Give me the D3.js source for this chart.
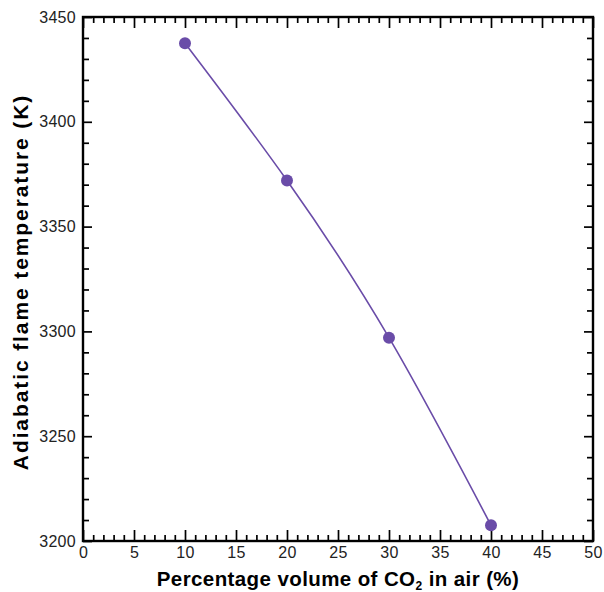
<!DOCTYPE html>
<html>
<head>
<meta charset="utf-8">
<script src="https://cdn.jsdelivr.net/npm/d3@7"></script>
<style>
  body { margin: 0; background: #fff; }
  text { font-family: "Liberation Sans", Arial, sans-serif; }
</style>
</head>
<body>
<div id="chart-area"></div>
<script>
// data
let co2Pct = [10, 20, 30, 40];
let flameTemp = [3437.5, 3372, 3297, 3207.5];
let xTicks = [0, 5, 10, 15, 20, 25, 30, 35, 40, 45, 50];
let yTicks = [3200, 3250, 3300, 3350, 3400, 3450];

let margin = {top: 17, right: 11, bottom: 51, left: 83},
    width = 604 - margin.left - margin.right,
    height = 592 - margin.top - margin.bottom;

let svg = d3.select("#chart-area").append("svg")
    .attr("width", 604)
    .attr("height", 592)
    .append("g")
    .attr("transform", "translate(" + margin.left + "," + margin.top + ")");

let x = d3.scaleLinear().domain([0, 50]).range([0, width]);
let y = d3.scaleLinear().domain([3200, 3450]).range([height, 0]);

let xMinor = d3.range(0, 51, 1).filter(d => d % 5 != 0);
let yMinor = d3.range(3200, 3451, 10).filter(d => d % 50 != 0);

function tickAxis(axisFn, scale, ticks, size, labels) {
    return axisFn(scale).tickValues(ticks).tickSize(size).tickPadding(6)
        .tickFormat(labels ? d3.format("d") : "");
}

// inward ticks on all four sides
let bottomG = svg.append("g").attr("class", "x-axis axis")
    .attr("transform", "translate(0," + height + ")")
    .call(tickAxis(d3.axisBottom, x, xTicks, -11, true));
bottomG.selectAll(".tick text").attr("dy", "0.9em").attr("y", 3);
svg.append("g").attr("transform", "translate(0," + height + ")")
    .call(tickAxis(d3.axisBottom, x, xMinor, -6, false));

svg.append("g").call(tickAxis(d3.axisTop, x, xTicks, -11, false));
svg.append("g").call(tickAxis(d3.axisTop, x, xMinor, -6, false));

let leftG = svg.append("g").attr("class", "y-axis axis")
    .call(tickAxis(d3.axisLeft, y, yTicks, -9, true));
leftG.selectAll(".tick text").attr("x", -7);
svg.append("g").call(tickAxis(d3.axisLeft, y, yMinor, -6, false));

svg.append("g").attr("transform", "translate(" + width + ",0)")
    .call(tickAxis(d3.axisRight, y, yTicks, -9, false));
svg.append("g").attr("transform", "translate(" + width + ",0)")
    .call(tickAxis(d3.axisRight, y, yMinor, -6, false));

svg.selectAll(".domain").remove();
svg.selectAll(".tick line").attr("stroke", "#000").attr("stroke-width", 1.7);
svg.selectAll(".tick text")
    .attr("fill", "#222")
    .style("font-size", "16px")
    .style("letter-spacing", "0.3px");

// frame
svg.append("rect")
    .attr("width", width).attr("height", height)
    .attr("fill", "none").attr("stroke", "#000").attr("stroke-width", 2.4);

let data = co2Pct.map((d, i) => ({pct: d, temp: flameTemp[i]}));
let purple = "#6a4ca8";

let line = d3.line()
    .x(d => x(d.pct))
    .y(d => y(d.temp))
    .curve(d3.curveNatural);

svg.append("path")
    .datum(data)
    .attr("fill", "none")
    .attr("stroke", purple)
    .attr("stroke-width", 1.6)
    .attr("d", line);

svg.selectAll(".dot")
    .data(data)
    .enter()
    .append("circle")
    .attr("class", "dot")
    .attr("cx", d => x(d.pct))
    .attr("cy", d => y(d.temp))
    .attr("r", 6)
    .attr("fill", purple);

// axis titles
let xTitle = svg.append("text")
    .attr("x", width / 2)
    .attr("y", height + 45)
    .attr("text-anchor", "middle")
    .style("font-size", "20.5px")
    .style("font-weight", "bold")
    .style("letter-spacing", "0.4px");
xTitle.append("tspan").text("Percentage volume of CO");
xTitle.append("tspan").attr("dy", 4).style("font-size", "12px").text("2");
xTitle.append("tspan").attr("dy", -4).text(" in air (%)");

svg.append("text")
    .attr("transform", "translate(" + (-55) + "," + (y(3325) + 3) + ") rotate(-90)")
    .attr("text-anchor", "middle")
    .style("font-size", "21px")
    .style("font-weight", "bold")
    .style("letter-spacing", "1.9px")
    .text("Adiabatic flame temperature (K)");
</script>
</body>
</html>
